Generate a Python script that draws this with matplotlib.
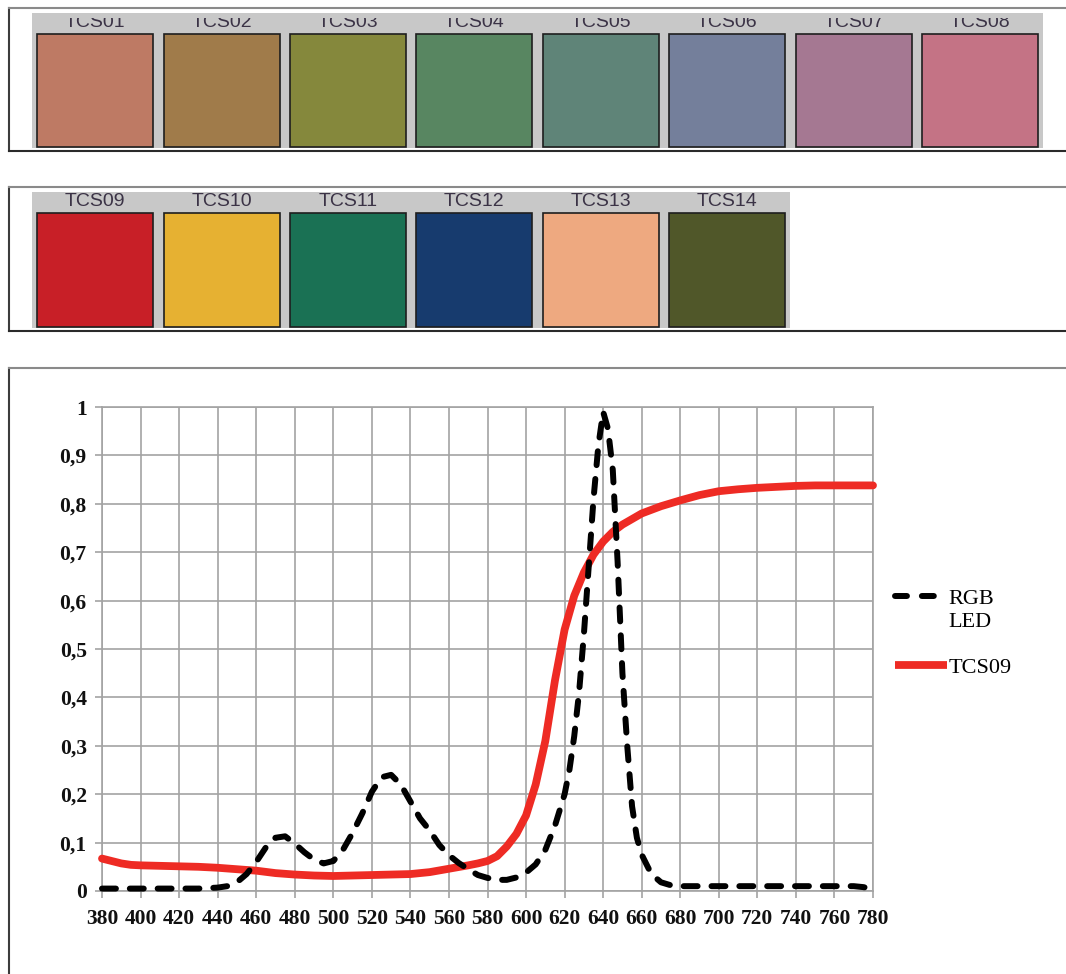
import matplotlib
matplotlib.use("Agg")
import matplotlib.pyplot as plt
from matplotlib.lines import Line2D
from matplotlib.transforms import Bbox, TransformedBbox

# ---------------- data ----------------
tcs_row1_labels = ["TCS01", "TCS02", "TCS03", "TCS04", "TCS05", "TCS06", "TCS07", "TCS08"]
tcs_row1_colors = ["#BE7A64", "#A07B4A", "#85883C", "#588661", "#5F8478", "#747F9B", "#A57892", "#C47385"]
tcs_row2_labels = ["TCS09", "TCS10", "TCS11", "TCS12", "TCS13", "TCS14"]
tcs_row2_colors = ["#C81F27", "#E6B132", "#1A7154", "#173B6E", "#EEA980", "#505729"]

led_wl = [380, 390, 400, 410, 420, 430, 440, 445, 450, 455, 460, 465, 470, 475, 480, 485,
          490, 495, 500, 505, 510, 515, 520, 525, 530, 535, 540, 545, 550, 555, 560, 565,
          570, 575, 580, 585, 590, 595, 600, 605, 610, 615, 620, 622.5, 625, 627.5, 630,
          632.5, 635, 637.5, 640, 642.5, 645, 647.5, 650, 652.5, 655, 657.5, 660, 665, 670,
          675, 680, 690, 700, 710, 720, 730, 740, 750, 760, 770, 775, 780]
led_val = [0.005, 0.005, 0.005, 0.005, 0.005, 0.005, 0.007, 0.010, 0.018, 0.035, 0.060, 0.090,
           0.110, 0.113, 0.098, 0.080, 0.065, 0.057, 0.062, 0.085, 0.120, 0.160, 0.205, 0.235,
           0.240, 0.220, 0.185, 0.150, 0.125, 0.095, 0.074, 0.058, 0.045, 0.033, 0.027, 0.023,
           0.023, 0.028, 0.038, 0.055, 0.085, 0.135, 0.200, 0.250, 0.320, 0.410, 0.530, 0.670,
           0.810, 0.920, 0.990, 0.955, 0.870, 0.680, 0.450, 0.300, 0.175, 0.110, 0.075, 0.035,
           0.018, 0.012, 0.010, 0.010, 0.010, 0.010, 0.010, 0.010, 0.010, 0.010, 0.010, 0.010,
           0.008, 0.004]

tcs09_wl = [380, 385, 390, 395, 400, 410, 420, 430, 440, 450, 460, 470, 480, 490, 500, 510,
            520, 530, 540, 550, 560, 570, 575, 580, 585, 590, 595, 600, 605, 610, 615, 620,
            625, 630, 635, 640, 645, 650, 660, 670, 680, 690, 700, 710, 720, 730, 740, 750,
            760, 770, 780]
tcs09_val = [0.067, 0.062, 0.057, 0.054, 0.053, 0.052, 0.051, 0.050, 0.048, 0.045, 0.042, 0.037,
             0.034, 0.032, 0.031, 0.032, 0.033, 0.034, 0.035, 0.039, 0.046, 0.053, 0.057, 0.062,
             0.072, 0.092, 0.118, 0.156, 0.220, 0.310, 0.435, 0.540, 0.610, 0.658, 0.695, 0.722,
             0.742, 0.757, 0.780, 0.795, 0.807, 0.818, 0.826, 0.830, 0.833, 0.835, 0.837, 0.838,
             0.838, 0.838, 0.838]

x_ticks = list(range(380, 781, 20))
y_ticks = [0, 0.1, 0.2, 0.3, 0.4, 0.5, 0.6, 0.7, 0.8, 0.9, 1]
y_tick_labels = ["0", "0,1", "0,2", "0,3", "0,4", "0,5", "0,6", "0,7", "0,8", "0,9", "1"]

# ---------------- layout helpers ----------------
W, H = 1066, 974
fig = plt.figure(figsize=(W / 100, H / 100), dpi=100)
fig.patch.set_facecolor("white")


def rect(left, top, right, bottom):
    return [left / W, 1 - bottom / H, (right - left) / W, (bottom - top) / H]


def frame(top, bottom):
    ax = fig.add_axes(rect(9, top, W + 20, bottom), zorder=0)
    ax.set_xticks([])
    ax.set_yticks([])
    ax.patch.set_alpha(0)
    ax.spines["right"].set_visible(False)
    ax.spines["top"].set_color("#8a8a8a")
    ax.spines["left"].set_color("#3c3c3c")
    ax.spines["bottom"].set_color("#2a2a2a")
    for s in ax.spines.values():
        s.set_linewidth(1.5)
    return ax


frame(8, 151)
frame(187, 331)
frame(368, H + 20)

PITCH = 126.4


def swatch_row(top, bottom, labels, colors, clip_top=None):
    n = len(labels)
    ax = fig.add_axes(rect(32, top, 32 + n * PITCH, bottom), zorder=1)
    ax.set_facecolor("#C8C8C8")
    for s in ax.spines.values():
        s.set_visible(False)
    ax.set_xticks([])
    ax.set_yticks([])
    ax.set_xlim(-0.5, n - 0.5)
    ax.set_ylim(0, 1)
    ax.bar(range(n), [0.837] * n, bottom=0.0074, width=0.918, color=colors,
           edgecolor="#1e1e1e", linewidth=1.2, align="center")
    for i, lab in enumerate(labels):
        t = ax.text(i, 0.93, lab, ha="center", va="center", fontsize=14,
                    family="Liberation Sans", color="#3b3346")
        if clip_top is not None:
            t.set_clip_box(TransformedBbox(Bbox([[-1, 0], [2, clip_top]]), ax.transAxes))
            t.set_clip_on(True)
    return ax


swatch_row(13, 148, tcs_row1_labels, tcs_row1_colors, clip_top=0.962)
swatch_row(192, 328, tcs_row2_labels, tcs_row2_colors)

# ---------------- chart ----------------
grid_c = "#A3A3A3"
ax = fig.add_axes(rect(102, 407, 873, 891), zorder=2)
ax.set_xlim(380, 780)
ax.set_ylim(0, 1)
ax.set_xticks(x_ticks)
ax.set_xticklabels([str(v) for v in x_ticks])
ax.set_yticks(y_ticks)
ax.set_yticklabels(y_tick_labels)
ax.grid(True, color=grid_c, linewidth=1.2)
ax.set_axisbelow(True)
for s in ax.spines.values():
    s.set_color(grid_c)
    s.set_linewidth(1.2)
ax.tick_params(axis="x", direction="out", length=5, width=1.2, color=grid_c, pad=8)
ax.tick_params(axis="y", direction="out", length=5, width=1.2, color=grid_c, pad=6)
for lab in ax.get_xticklabels() + ax.get_yticklabels():
    lab.set_fontfamily("Liberation Serif")
    lab.set_fontweight("bold")
    lab.set_fontsize(15.5)
    lab.set_color("#111111")

red = "#EE2B24"
ax.plot(tcs09_wl, tcs09_val, color=red, linewidth=5.6, solid_capstyle="round",
        solid_joinstyle="round", clip_on=False, zorder=3)
ax.plot(led_wl, led_val, color="black", linewidth=4.3, linestyle=(0, (2.33, 2.33)),
        dash_capstyle="round", dash_joinstyle="round", clip_on=False, zorder=4)

handles = [
    Line2D([], [], color="black", linewidth=4.3, linestyle=(0, (2.0, 2.5)), dash_capstyle="round"),
    Line2D([], [], linestyle="none"),
    Line2D([], [], linestyle="none"),
    Line2D([], [], color=red, linewidth=5.6, solid_capstyle="butt"),
]
labels = ["RGB", "LED", " ", "TCS09"]
fig.legend(handles, labels, loc="upper left", bbox_to_anchor=(895 / W, 1 - 588 / H),
           frameon=False, borderpad=0, borderaxespad=0, handlelength=2.35,
           handletextpad=0.05, labelspacing=0.12,
           prop={"family": "Liberation Serif", "size": 16})

fig.savefig("out.png", dpi=100, facecolor="white")
